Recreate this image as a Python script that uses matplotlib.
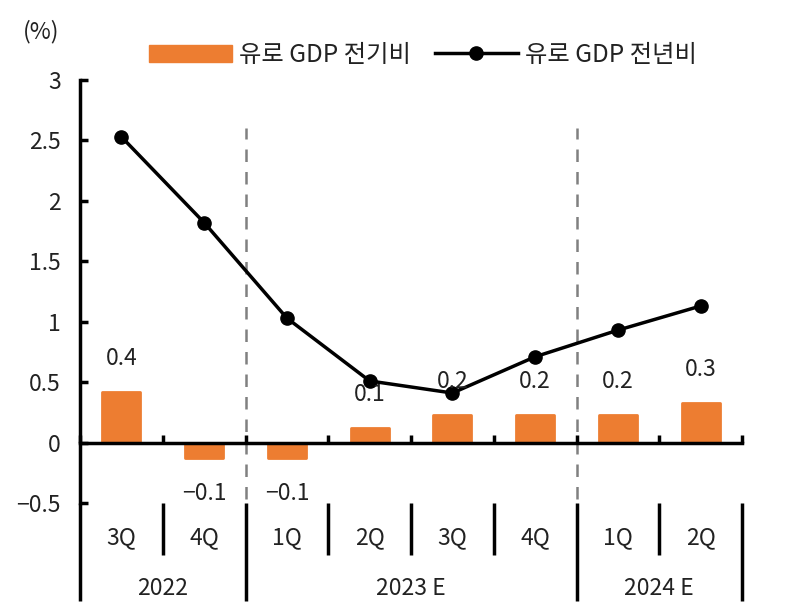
import matplotlib
matplotlib.use('Agg')
import matplotlib.pyplot as plt
import matplotlib.transforms as mtransforms
from matplotlib.patches import Patch
from matplotlib.lines import Line2D

plt.rcParams['font.family'] = ['Noto Sans CJK KR', 'DejaVu Sans']
plt.rcParams['axes.unicode_minus'] = True

# Data ==========================
quarters = ['3Q', '4Q', '1Q', '2Q', '3Q', '4Q', '1Q', '2Q']
years = ['2022', '2023 E', '2024 E']
year_spans = [(0, 2), (2, 6), (6, 8)]
qoq = [0.42, -0.13, -0.13, 0.12, 0.23, 0.23, 0.23, 0.33]
yoy = [2.53, 1.82, 1.03, 0.51, 0.41, 0.71, 0.93, 1.13]
qoq_name = '유로 GDP 전기비'
yoy_name = '유로 GDP 전년비'

ORANGE = '#ED7D31'
TXT = '#222222'
FS = 16.5
LW = 2.5

fig = plt.figure(figsize=(7.86, 6.12), dpi=100)
ax = fig.add_axes([80 / 786, (612 - 503) / 612, 662 / 786, 423 / 612])

x = [i + 0.5 for i in range(len(quarters))]

# bars
ax.bar(x, qoq, width=0.46, color=ORANGE, edgecolor=ORANGE, linewidth=2,
       joinstyle='round', zorder=2)
for xi, v in zip(x, qoq):
    off = 24 if v >= 0 else -25
    ax.annotate(f'{v:.1f}'.replace('-', '\u2212'), (xi, v), xytext=(0, off),
                textcoords='offset points', ha='center', va='center',
                fontsize=FS, color=TXT, zorder=5)

# line
ax.plot(x, yoy, color='black', lw=LW, marker='o', markersize=9.5, zorder=4)

# dashed year separators
for b in [2, 6]:
    ax.plot([b, b], [-0.47, 2.6], color='#808080', lw=1.8, ls=(0, (5, 4)), zorder=1)

ax.set_xlim(0, 8)
ax.set_ylim(-0.5, 3)
ax.set_yticks([-0.5, 0, 0.5, 1, 1.5, 2, 2.5, 3])
ax.set_yticklabels(['\u22120.5', '0', '0.5', '1', '1.5', '2', '2.5', '3'])
ax.tick_params(axis='y', direction='in', length=6, width=LW, labelsize=FS,
               labelcolor=TXT, pad=14)

for s in ['top', 'right']:
    ax.spines[s].set_visible(False)
ax.spines['left'].set_linewidth(LW)
ax.spines['bottom'].set_position(('data', 0))
ax.spines['bottom'].set_linewidth(LW)
ax.set_xticks(range(9))
ax.set_xticklabels([''] * 9)
ax.tick_params(axis='x', direction='in', length=6, width=LW)

# category axis below the plot
trans = mtransforms.blended_transform_factory(ax.transData, ax.transAxes)
for b in range(9):
    low = -0.232 if b in (0, 2, 6, 8) else -0.123
    ax.plot([b, b], [low, 0.0], color='black', lw=LW, transform=trans,
            clip_on=False, solid_capstyle='butt')
for xi, q in zip(x, quarters):
    ax.text(xi, -0.083, q, transform=trans, ha='center', va='center',
            fontsize=FS, color=TXT)
for (a, b), yr in zip(year_spans, years):
    ax.text((a + b) / 2, -0.201, yr, transform=trans, ha='center', va='center',
            fontsize=FS, color=TXT)

fig.text(41 / 786, 1 - 32 / 612, '(%)', ha='center', va='center', fontsize=FS, color=TXT)

handles = [Patch(facecolor=ORANGE, edgecolor=ORANGE, joinstyle='round'),
           Line2D([], [], color='black', lw=LW, marker='o', markersize=9.5)]
fig.legend(handles, [qoq_name, yoy_name], loc='center', ncol=2, frameon=False,
           bbox_to_anchor=(423 / 786, 1 - 55 / 612), fontsize=FS + 1,
           handlelength=3.4, handleheight=0.75, handletextpad=0.3,
           columnspacing=1.0, labelcolor=TXT)

fig.savefig('out.png', dpi=100)
